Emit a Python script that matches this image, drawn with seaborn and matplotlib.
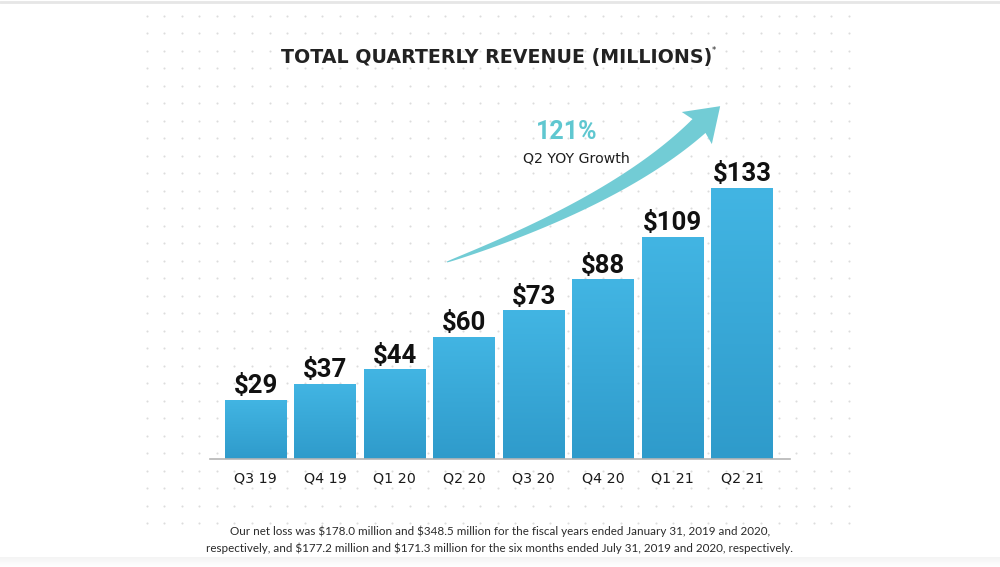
import numpy as np
import pandas as pd
import matplotlib
matplotlib.use("Agg")
import matplotlib.pyplot as plt
import seaborn as sns
from matplotlib.colors import LinearSegmentedColormap
from matplotlib.patches import Polygon

quarters = ["Q3 19", "Q4 19", "Q1 20", "Q2 20", "Q3 20", "Q4 20", "Q1 21", "Q2 21"]
revenue = [29, 37, 44, 60, 73, 88, 109, 133]
value_labels = ["$29", "$37", "$44", "$60", "$73", "$88", "$109", "$133"]
title = "TOTAL QUARTERLY REVENUE (MILLIONS)"
growth_value = "121%"
growth_label = "Q2 YOY Growth"
footnote = ("Our net loss was \\$178.0 million and \\$348.5 million for the fiscal years ended January 31, 2019 and 2020,\n"
            "respectively, and \\$177.2 million and \\$171.3 million for the six months ended July 31, 2019 and 2020, respectively.")

sns.set_theme(style="white")
plt.rcParams["font.family"] = ["DejaVu Sans"]

W, H = 1000, 567
fig = plt.figure(figsize=(W / 100, H / 100), dpi=100)
fig.patch.set_facecolor("white")

# background axes in pixel coordinates (y down)
bg = fig.add_axes([0, 0, 1, 1], zorder=0)
bg.set_xlim(0, W)
bg.set_ylim(H, 0)
bg.axis("off")
gx = 146.7 + 17.55 * np.arange(41)
gy = 15.7 + 17.5 * np.arange(30)
XX, YY = np.meshgrid(gx, gy)
bg.scatter(XX.ravel(), YY.ravel(), s=2.2, color="#dcdcdc", linewidths=0)
bg.plot([0, W], [1.5, 1.5], color="#e6e6e6", lw=2)
shade = np.linspace(0, 1, 20).reshape(-1, 1)
bg.imshow(shade, extent=[0, W, 567, 557], cmap=LinearSegmentedColormap.from_list("s", ["#f4f4f4", "#ffffff"]),
          aspect="auto", zorder=0)

# growth arrow (decoration) as tapered bezier polygon in pixel coords
P0 = np.array([447.0, 262.0])
C = np.array([620.0, 200.0])
P2 = np.array([699.0, 126.0])
t = np.linspace(0, 1, 100)[:, None]
pts = (1 - t) ** 2 * P0 + 2 * (1 - t) * t * C + t ** 2 * P2
d = 2 * (1 - t) * (C - P0) + 2 * t * (P2 - C)
d = d / np.linalg.norm(d, axis=1, keepdims=True)
nrm = np.column_stack([-d[:, 1], d[:, 0]])
wdt = (1.0 + 18.0 * t[:, 0] ** 0.75)[:, None] / 2
upper = pts + nrm * wdt
lower = pts - nrm * wdt
dir_end = d[-1]
n_end = nrm[-1]
tip = P2 + dir_end * 29
hl = P2 + n_end * 22 - dir_end * 3
hr = P2 - n_end * 22 - dir_end * 3
poly = np.vstack([upper, hl, tip, hr, lower[::-1]])
bg.add_patch(Polygon(poly, closed=True, facecolor="#72ccd5", edgecolor="none", zorder=2))

# main bar axes
ax_left, ax_right = 210, 790
ax_bottom_px, ax_top_px = 459, 100
ax = fig.add_axes([ax_left / W, (H - ax_bottom_px) / H, (ax_right - ax_left) / W,
                   (ax_bottom_px - ax_top_px) / H], zorder=2)
ax.patch.set_alpha(0)
df = pd.DataFrame({"quarter": quarters, "revenue": revenue})
sns.barplot(data=df, x="quarter", y="revenue", color="#38a9d9", width=0.89, ax=ax,
            saturation=1, edgecolor="none")
ymax = (ax_bottom_px - ax_top_px) / 2.04

cmap = LinearSegmentedColormap.from_list("bar", ["#2f9bcb", "#42b5e3"])
grad = np.linspace(0, 1, 100).reshape(-1, 1)
for p in list(ax.patches):
    x0, y0 = p.get_x(), p.get_y()
    w, h = p.get_width(), p.get_height()
    im = ax.imshow(grad, extent=[x0, x0 + w, y0, y0 + h], origin="lower", cmap=cmap,
                   aspect="auto", zorder=p.get_zorder() + 0.1)
    im.set_clip_path(p)
ax.set_xlim(-0.66, 7.69)
ax.set_ylim(0, ymax)

for i, (v, lab) in enumerate(zip(revenue, value_labels)):
    ax.annotate(lab, (i, v), xytext=(0, 1), textcoords="offset points", ha="center", va="bottom",
                fontsize=18.5, fontweight="bold", family=["Roboto", "DejaVu Sans"], color="#111111")

ax.set_xlabel("")
ax.set_ylabel("")
ax.set_yticks([])
ax.tick_params(axis="x", length=0, pad=9, labelsize=10.3, labelcolor="#1a1a1a")
for s in ["top", "right", "left"]:
    ax.spines[s].set_visible(False)
ax.spines["bottom"].set_color("#b5b5b5")
ax.spines["bottom"].set_linewidth(1.2)

# texts in pixel coords
bg.text(497, 57, title, ha="center", va="center", fontsize=13.7, fontweight="bold", color="#222222")
bg.text(714, 51, "*", ha="center", va="center", fontsize=6, color="#222222")
bg.text(567, 132, growth_value, ha="center", va="center", fontsize=18, fontweight="bold",
        family=["Roboto", "DejaVu Sans"], color="#5fc7d0", zorder=3)
bg.text(576, 158, growth_label, ha="center", va="center", fontsize=10.2, color="#1e1e1e", zorder=3)
bg.text(500, 540, footnote, ha="center", va="center", fontsize=8.4, family=["Lato", "DejaVu Sans"],
        color="#2a2a2a", linespacing=1.6)

fig.savefig("out.png", dpi=100, facecolor="white")
